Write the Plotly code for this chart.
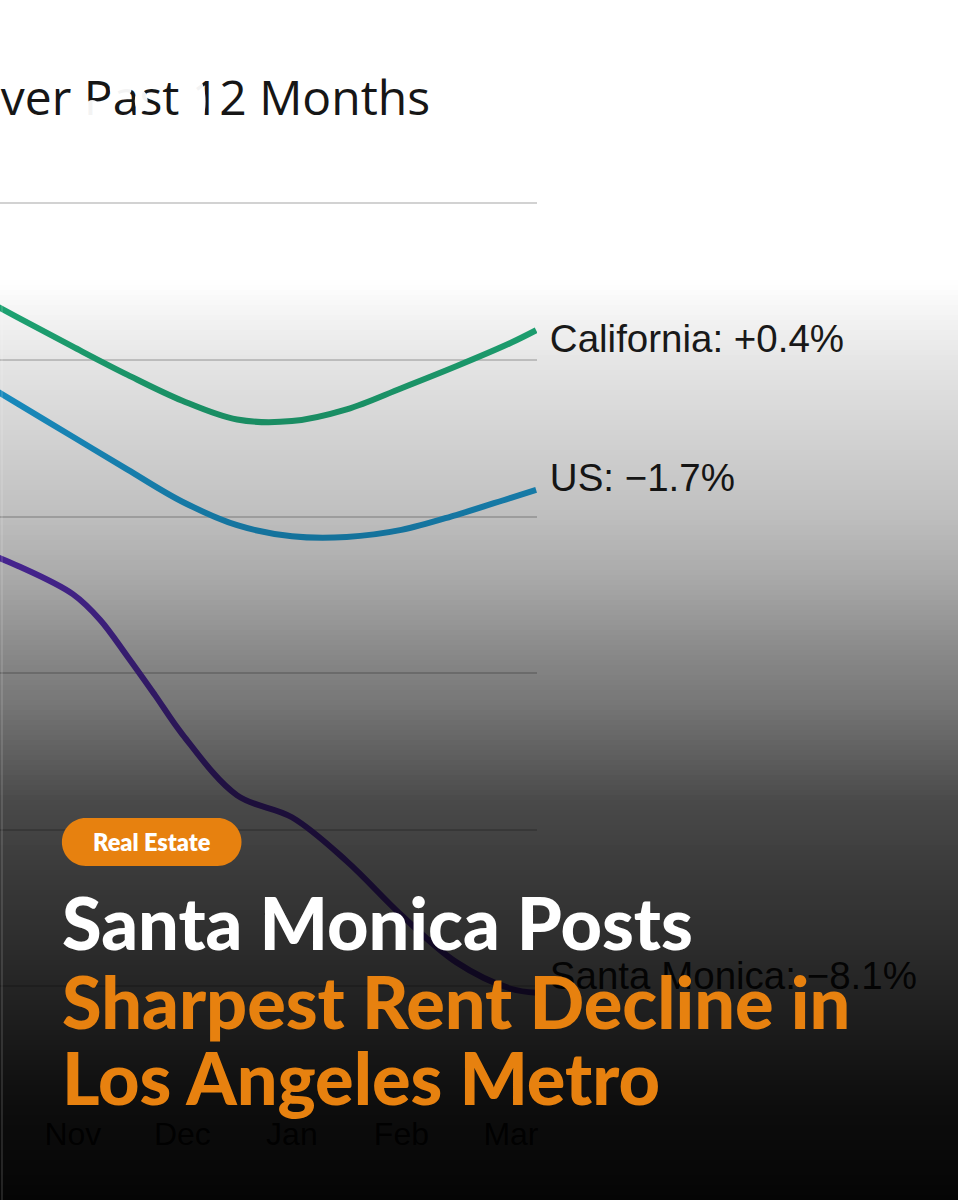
import numpy as np
import plotly.graph_objects as go

# ---------------- data ----------------
MONTH_TICKS = [0, 1, 2, 3, 4]
MONTH_LABELS = ["Nov", "Dec", "Jan", "Feb", "Mar"]
# sample positions in months (Nov = 0)
X_POS = [-1.0, -0.5, 0.0, 0.5, 1.0, 1.5, 2.0, 2.5, 3.0, 3.5, 4.0, 4.23]
CALIFORNIA = [0.92, 0.54, 0.17, -0.19, -0.52, -0.76, -0.78, -0.63, -0.36, -0.08, 0.22, 0.38]
US = [-0.14, -0.56, -0.98, -1.40, -1.81, -2.11, -2.25, -2.26, -2.17, -1.98, -1.76, -1.66]
SM_X_POS = [-1.0, -0.5, 0.0, 0.25, 0.5, 0.75, 1.0, 1.5, 2.0, 2.5, 3.0, 3.5, 4.0, 4.23]
SANTA_MONICA = [-2.35, -2.63, -2.99, -3.32, -3.79, -4.28, -4.78, -5.56, -5.84, -6.40, -7.09, -7.69, -8.03, -8.08]
SERIES_LABELS = ["California: +0.4%", "US: \u22121.7%", "Santa Monica: \u22128.1%"]
Y_TICKS = [2, 0, -2, -4, -6, -8]
TITLE = "Over Past 12 Months"
BADGE = "Real Estate"
HEADLINE = ["Santa Monica Posts", "Sharpest Rent Decline in", "Los Angeles Metro"]

# ---------------- geometry / style ----------------
W, H = 960, 1200
PX_PER_MONTH = 109.75
NOV_PX = 73
PLOT_RIGHT_PX = 538
PX_PER_PCT = 78.3
ZERO_PX = 360
PLOT_TOP_PX = 150
PLOT_BOTTOM_PX = 1112

COLORS = ["#1fa876", "#1d9fd9", "#6636cf"]
ORANGE = "#E7810F"
LABEL_FONT = "Liberation Sans, Arial, sans-serif"
TITLE_FONT = "Open Sans, Liberation Sans, sans-serif"
HEAD_FONT = "Lato, sans-serif"


def xval(px):
    return (px - NOV_PX) / PX_PER_MONTH


def yval(py):
    return (ZERO_PX - py) / PX_PER_PCT


def xp(px):
    return px / W


def yp(py):
    return 1 - py / H


fig = go.Figure()

for xs, vals, col in zip([X_POS, X_POS, SM_X_POS], [CALIFORNIA, US, SANTA_MONICA], COLORS):
    fig.add_trace(go.Scatter(
        x=xs, y=vals, mode="lines",
        line=dict(color=col, width=6, shape="spline", smoothing=1.0),
        hoverinfo="skip", showlegend=False,
    ))

# end labels (on a full-page overlay axis in the same units, under the dark overlay)
LABEL_X_PX = 551
LABEL_Y_PX = [342, 481, 979]
fig.add_trace(go.Scatter(
    x=[xval(LABEL_X_PX)] * 3, y=[yval(p) for p in LABEL_Y_PX],
    xaxis="x2", yaxis="y2",
    mode="text", text=SERIES_LABELS, textposition="middle right",
    textfont=dict(family=LABEL_FONT, size=38.5, color="#1b1b1b"),
    cliponaxis=False, hoverinfo="skip", showlegend=False,
))

# chart title (cropped at the left edge)
fig.add_trace(go.Scatter(
    x=[xval(431)], y=[yval(103)],
    xaxis="x2", yaxis="y2",
    mode="text", text=[TITLE], textposition="middle left",
    textfont=dict(family=TITLE_FONT, size=48, color="#161616"),
    cliponaxis=False, hoverinfo="skip", showlegend=False,
))

shapes = []
# white smudges over the title
for (x0, y0, x1, y1) in [(83, 100, 102, 126), (110, 80, 132, 98), (135, 90, 148, 112), (188, 78, 206, 125)]:
    shapes.append(dict(type="circle", xref="paper", yref="paper",
                       x0=xp(x0), x1=xp(x1), y0=yp(y1), y1=yp(y0),
                       fillcolor="rgba(255,255,255,0.95)", line=dict(width=0), layer="above"))

# dark gradient overlay
GRAD_Y = [280, 360, 513, 580, 650, 700, 800, 870, 950, 1000, 1100, 1200]
GRAD_A = [0.0, 0.10, 0.25, 0.34, 0.46, 0.53, 0.71, 0.77, 0.83, 0.87, 0.945, 0.98]
step = 5
for y0 in range(280, 1200, step):
    a = float(np.interp(y0 + step / 2, GRAD_Y, GRAD_A))
    shapes.append(dict(type="rect", xref="paper", yref="paper",
                       x0=0, x1=1, y0=yp(y0 + step), y1=yp(y0),
                       fillcolor=f"rgba(0,0,0,{a:.3f})", line=dict(width=0), layer="above"))

# faint left edge strip
shapes.append(dict(type="line", xref="paper", yref="paper", x0=xp(2), x1=xp(2),
                   y0=yp(1200), y1=yp(260), line=dict(color="rgba(255,255,255,0.12)", width=2),
                   layer="above"))

# badge pill
bx0, bx1, by0, by1 = 62, 242, 818, 866
r = (by1 - by0) / 2
k = 0.5523 * r


def P(x, y):
    return f"{xp(x):.5f},{yp(y):.5f}"


path = (f"M {P(bx0 + r, by0)} L {P(bx1 - r, by0)} "
        f"C {P(bx1 - r + k, by0)} {P(bx1, by0 + r - k)} {P(bx1, by0 + r)} "
        f"C {P(bx1, by0 + r + k)} {P(bx1 - r + k, by1)} {P(bx1 - r, by1)} "
        f"L {P(bx0 + r, by1)} "
        f"C {P(bx0 + r - k, by1)} {P(bx0, by1 - r + k)} {P(bx0, by1 - r)} "
        f"C {P(bx0, by1 - r - k)} {P(bx0 + r - k, by0)} {P(bx0 + r, by0)} Z")
shapes.append(dict(type="path", xref="paper", yref="paper", path=path,
                   fillcolor=ORANGE, line=dict(width=0), layer="above"))

annotations = [
    dict(text=BADGE, x=xp(152), y=yp(842), xref="paper", yref="paper",
         xanchor="center", yanchor="middle", showarrow=False,
         font=dict(family=HEAD_FONT, size=23.5, color="#ffffff", weight=800)),
]
HEAD_Y = [922, 1001, 1077]
HEAD_COL = ["#ffffff", ORANGE, ORANGE]
for txt, yy, col in zip(HEADLINE, HEAD_Y, HEAD_COL):
    annotations.append(dict(text=txt, x=xp(60), y=yp(yy), xref="paper", yref="paper",
                            xanchor="left", yanchor="middle", showarrow=False,
                            font=dict(family=HEAD_FONT, size=72, color=col, weight=900)))

fig.update_layout(
    width=W, height=H,
    margin=dict(l=0, r=0, t=0, b=0),
    paper_bgcolor="#ffffff", plot_bgcolor="rgba(0,0,0,0)",
    showlegend=False,
    xaxis=dict(domain=[0, PLOT_RIGHT_PX / W],
               range=[xval(0), xval(PLOT_RIGHT_PX)],
               tickvals=MONTH_TICKS, ticktext=MONTH_LABELS,
               showgrid=False, zeroline=False, showline=False, ticks="",
               tickfont=dict(family=LABEL_FONT, size=32, color="#1a1a1a")),
    yaxis=dict(domain=[yp(PLOT_BOTTOM_PX), yp(PLOT_TOP_PX)],
               range=[yval(PLOT_BOTTOM_PX), yval(PLOT_TOP_PX)],
               tickvals=Y_TICKS, showticklabels=False,
               showgrid=True, gridcolor="#d2d2d2", gridwidth=2,
               zeroline=False, showline=False, ticks=""),
    xaxis2=dict(domain=[0, 1], range=[xval(0), xval(W)], anchor="y2", visible=False),
    yaxis2=dict(domain=[0, 1], range=[yval(H), yval(0)], anchor="x2", visible=False),
    shapes=shapes,
    annotations=annotations,
)

fig.write_html("out.html")
